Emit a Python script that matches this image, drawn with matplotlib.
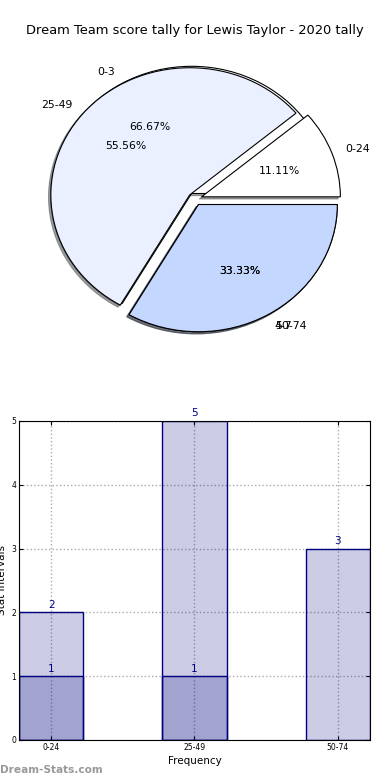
import numpy as np
import matplotlib
matplotlib.use('Agg')
from matplotlib import pyplot as plt

# data
title = 'Dream Team score tally for Lewis Taylor - 2020 tally'
ranges = ['0-24', '25-49', '50-74']
range_counts = [1, 5, 3]
tries = ['0-3', '4-7']
tries_counts = [2, 1]
pie_colors = ['#ffffff', '#eaf0ff', '#c4d8ff']

bar_all = [2, 5, 3]
bar_sub = [1, 1, 0]
bar_sub_labels = [1, 1, None]

fig = plt.figure(figsize=(3.9, 7.8), dpi=100)
fig.text(0.5, 0.961, title, ha='center', va='center', fontsize=9.4)

# pie (two pies on the same axes, second one on top)
shadow = {'ox': -0.012, 'oy': -0.012}
ax1 = fig.add_axes([0.055, 0.541, 0.89, 0.4077])
ax1.pie(tries_counts, labels=tries, colors=pie_colors[:2], explode=[0.05] * 2,
        autopct='%.2f%%', shadow=shadow, startangle=0,
        wedgeprops={'linewidth': 0.8, 'edgecolor': 'black'},
        textprops={'fontsize': 7.8})
ax1.pie(range_counts, labels=ranges, colors=pie_colors, explode=[0.05] * 3,
        autopct='%.2f%%', shadow=shadow, startangle=0,
        wedgeprops={'linewidth': 0.8, 'edgecolor': 'black'},
        textprops={'fontsize': 7.8})
ax1.set_aspect('auto')
ax1.set_xlim(-1.25, 1.25)
ax1.set_ylim(-1.25, 1.25)
ax1.axis('off')

# bars
ax2 = fig.add_axes([0.0487, 0.0513, 0.9, 0.409])
x = np.arange(len(ranges))
w = 0.45
ax2.bar(x, bar_all, w, color='navy', alpha=0.2, linewidth=0)
ax2.bar(x, bar_sub, w, color='navy', alpha=0.2, linewidth=0)
ax2.bar(x, bar_all, w, fill=False, edgecolor='navy', linewidth=1)
ax2.bar(x[:2], bar_sub[:2], w, fill=False, edgecolor='navy', linewidth=1)
for i, v in enumerate(bar_all):
    ax2.text(x[i], v + 0.04, str(v), ha='center', va='bottom', color='navy', fontsize=7.5)
for i, v in enumerate(bar_sub_labels):
    if v is not None:
        ax2.text(x[i], v + 0.04, str(v), ha='center', va='bottom', color='navy', fontsize=7.5)
ax2.set_xlim(-w / 2, 2 + w / 2)
ax2.set_ylim(0, 5)
ax2.set_xticks(x)
ax2.set_xticklabels(ranges)
ax2.set_yticks(range(6))
ax2.tick_params(direction='in', labelsize=5.5, top=True, right=True, length=3, pad=2)
ax2.grid(True, linestyle=':', color='#aaaaaa', linewidth=1)
ax2.set_axisbelow(True)
ax2.set_xlabel('Frequency', fontsize=7.5, labelpad=3)
ax2.set_ylabel('Stat Intervals', fontsize=7.5, labelpad=0)
ax2.yaxis.set_label_coords(-0.035, 0.5)

fig.text(0.0, 0.013, 'Dream-Stats.com', color='#999999', fontsize=7.6, fontweight='bold', ha='left', va='center')

plt.savefig('out.png', dpi=100)
